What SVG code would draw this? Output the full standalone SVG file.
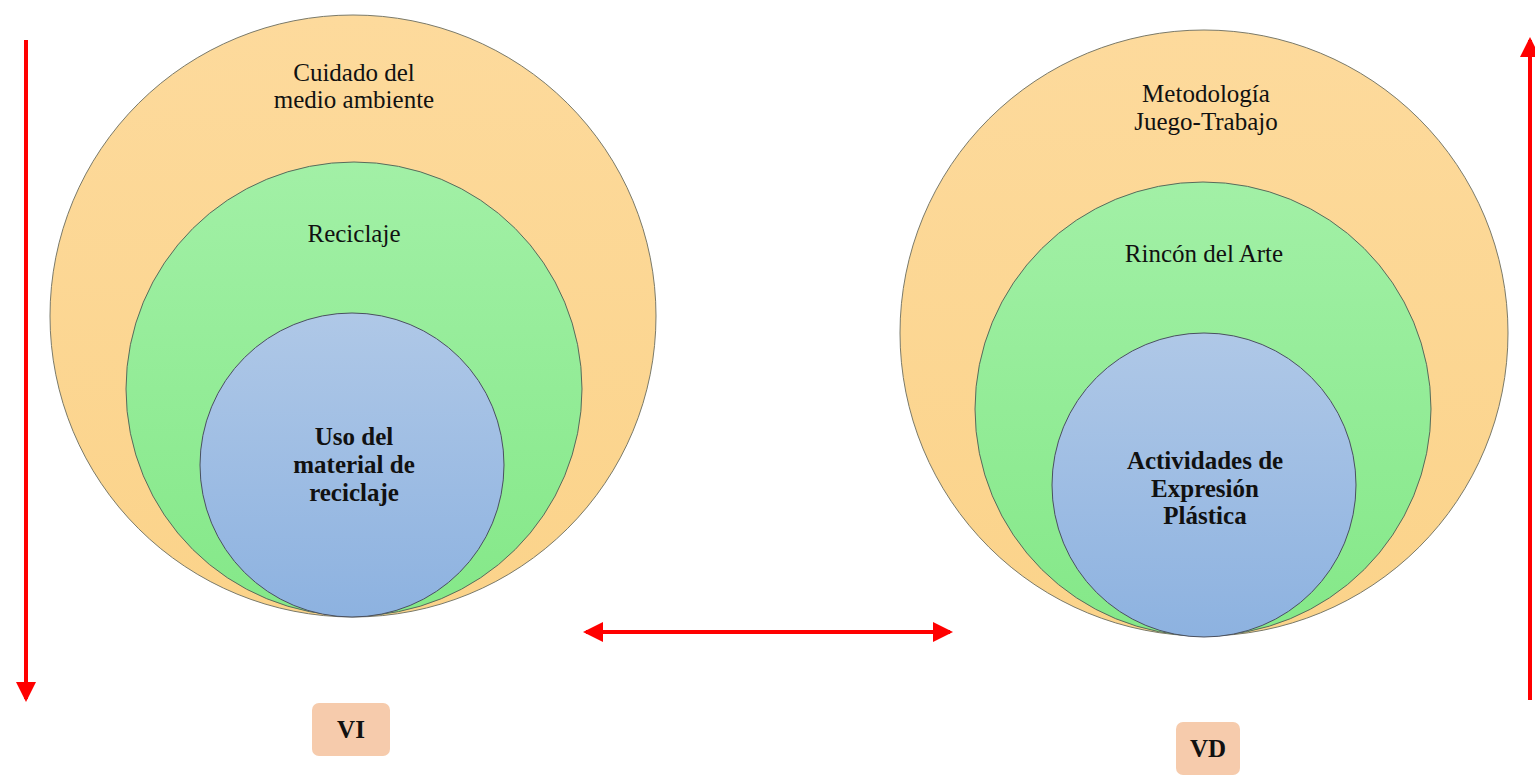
<svg xmlns="http://www.w3.org/2000/svg" width="1535" height="776" viewBox="0 0 1535 776">
<defs>
<linearGradient id="gOr" x1="0" y1="0" x2="0" y2="1"><stop offset="0" stop-color="#fdda9c"/><stop offset="1" stop-color="#fbd38a"/></linearGradient>
<linearGradient id="gGr" x1="0" y1="0" x2="0" y2="1"><stop offset="0" stop-color="#a2f0a6"/><stop offset="1" stop-color="#84e888"/></linearGradient>
<linearGradient id="gBl" x1="0" y1="0" x2="0" y2="1"><stop offset="0" stop-color="#afc8e7"/><stop offset="1" stop-color="#8db2e0"/></linearGradient>
<marker id="ah" viewBox="0 0 20 20" refX="17" refY="10" markerWidth="20" markerHeight="20" orient="auto-start-reverse" markerUnits="userSpaceOnUse"><path d="M0,0 L20,10 L0,20 z" fill="#ff0000"/></marker>
</defs>
<style>
.or{fill:url(#gOr);stroke:#7a7a6a;stroke-width:1}
.gr{fill:url(#gGr);stroke:#5a6a5a;stroke-width:1}
.bl{fill:url(#gBl);stroke:#4a5060;stroke-width:1}
.t{font-family:"Liberation Serif","Times New Roman",serif;font-size:25px;fill:#111;text-anchor:middle}
.tb{font-family:"Liberation Serif","Times New Roman",serif;font-size:25px;font-weight:bold;fill:#111;text-anchor:middle}
.lbl{fill:#f6cbac}
.conn{stroke:#ff0000;stroke-width:4;fill:none}
</style>
<rect width="1535" height="776" fill="#ffffff"/>
<g id="left-outer"><ellipse class="or" cx="353" cy="316" rx="303" ry="301"/><text class="t" x="354" y="81">Cuidado del</text><text class="t" x="354" y="108">medio ambiente</text></g>
<g id="left-middle"><ellipse class="gr" cx="354" cy="389" rx="228" ry="227"/><text class="t" x="354" y="242">Reciclaje</text></g>
<g id="left-inner"><ellipse class="bl" cx="352" cy="465" rx="152" ry="152"/><text class="tb" x="354" y="445">Uso del</text><text class="tb" x="354" y="473">material de</text><text class="tb" x="354" y="501">reciclaje</text></g>
<g id="right-outer"><ellipse class="or" cx="1204" cy="333" rx="304" ry="303"/><text class="t" x="1206" y="102">Metodología</text><text class="t" x="1206" y="130">Juego-Trabajo</text></g>
<g id="right-middle"><ellipse class="gr" cx="1203" cy="409" rx="228" ry="227"/><text class="t" x="1204" y="262">Rincón del Arte</text></g>
<g id="right-inner"><ellipse class="bl" cx="1204" cy="485" rx="152" ry="152"/><text class="tb" x="1205" y="469">Actividades de</text><text class="tb" x="1205" y="497">Expresión</text><text class="tb" x="1205" y="524">Plástica</text></g>
<g id="vi"><rect class="lbl" x="312" y="703" width="78" height="53" rx="7"/><text class="tb" x="351" y="738">VI</text></g>
<g id="vd"><rect class="lbl" x="1176" y="722" width="64" height="53" rx="7"/><text class="tb" x="1208" y="757">VD</text></g>
<g id="connectors">
<line class="conn" x1="26" y1="40" x2="26" y2="699" marker-end="url(#ah)"/>
<line class="conn" x1="1530" y1="700" x2="1530" y2="40" marker-end="url(#ah)"/>
<line class="conn" x1="586" y1="632" x2="950" y2="632" marker-start="url(#ah)" marker-end="url(#ah)"/>
</g>
</svg>
